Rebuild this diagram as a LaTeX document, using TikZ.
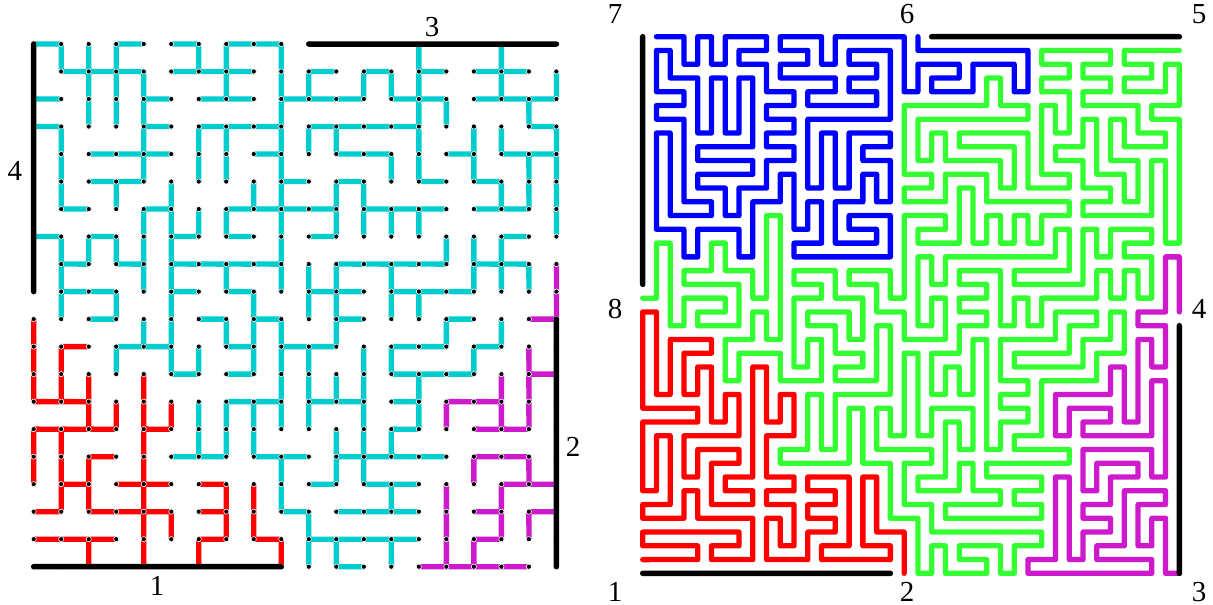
\documentclass[tikz,border=0pt]{standalone}
\usepackage{fontspec}
\setmainfont{Liberation Serif}
\definecolor{tcyan}{RGB}{0,205,205}
\definecolor{tred}{RGB}{255,0,0}
\definecolor{tmag}{RGB}{205,26,205}
\definecolor{cblue}{RGB}{0,0,255}
\definecolor{cgreen}{RGB}{51,255,51}
\tikzset{
 edge/.style={line width=5.3pt,line cap=butt},
 dot/.style={fill=black,draw=white,line width=.6pt},
 bar/.style={line width=5.5pt,line cap=round,black},
 curve/.style={line width=5.3pt,line cap=round,line join=round},
 lab/.style={inner sep=0pt,font=\fontsize{29}{29}\selectfont}
}
\newcount\ca \newcount\cb \newcount\cres \newcount\eres \newcount\cvt
\newcount\cvk \newcount\cvm \newcount\cvd \newcount\found \newcount\cvs
\makeatletter
\newcommand\hedges[3]{\foreach \ci in {#3}{\draw[edge,#1] (\ci,#2) -- ++(1,0.001);
  \expandafter\gdef\csname h\ci,#2\endcsname{}}}
\newcommand\vedges[3]{\foreach \ci in {#3}{\draw[edge,#1] (\ci,#2) -- ++(0.001,1);
  \expandafter\gdef\csname v\ci,#2\endcsname{}}}
\def\cellval#1#2{\ca=\numexpr#1\relax \cb=\numexpr#2\relax
 \ifnum\ca<0 \cres=0 \ifnum\cb>-1 \ifnum\cb<19 \cres=1 \fi\fi \ifnum\cb=38 \cres=1 \fi
 \else\ifnum\cb<0 \cres=0 \ifnum\ca=0 \cres=1 \fi \ifnum\ca>19 \ifnum\ca<39 \cres=1 \fi\fi
 \else\ifnum\ca>38 \cres=0 \ifnum\cb>19 \ifnum\cb<39 \cres=1 \fi\fi \ifnum\cb=0 \cres=1 \fi
 \else\ifnum\cb>38 \cres=0 \ifnum\ca<19 \cres=1 \fi
 \else
  \ifodd\ca
   \ifodd\cb \cres=0
   \else
    \ifcsname h\the\numexpr(\ca-1)/2\relax,\the\numexpr\cb/2\relax\endcsname \cres=1 \else \cres=0 \fi
   \fi
  \else
   \ifodd\cb
    \ifcsname v\the\numexpr\ca/2\relax,\the\numexpr(\cb-1)/2\relax\endcsname \cres=1 \else \cres=0 \fi
   \else \cres=1
   \fi
  \fi
 \fi\fi\fi\fi}
\def\testH#1#2{\eres=0
 \ifnum\numexpr#1\relax>-1 \ifnum\numexpr#1\relax<39
  \cellval{#1}{#2-1}\cvt=\cres \cellval{#1}{#2}%
  \ifnum\cvt=\cres\else\eres=1 \fi
 \fi\fi}
\def\testV#1#2{\eres=0
 \ifnum\numexpr#2\relax>-1 \ifnum\numexpr#2\relax<39
  \cellval{#1-1}{#2}\cvt=\cres \cellval{#1}{#2}%
  \ifnum\cvt=\cres\else\eres=1 \fi
 \fi\fi}
\def\stepcurve{\found=0
 \ifnum\cvd=2 \else\testH{\cvk}{\cvm}\ifnum\eres=1 \found=1 \cvd=0 \advance\cvk 1 \fi\fi
 \ifnum\found=0 \ifnum\cvd=3 \else\testV{\cvk}{\cvm}\ifnum\eres=1 \found=1 \cvd=1 \advance\cvm 1 \fi\fi\fi
 \ifnum\found=0 \ifnum\cvd=0 \else\testH{\cvk-1}{\cvm}\ifnum\eres=1 \found=1 \cvd=2 \advance\cvk -1 \fi\fi\fi
 \ifnum\found=0 \ifnum\cvd=1 \else\testV{\cvk}{\cvm-1}\ifnum\eres=1 \found=1 \cvd=3 \advance\cvm -1 \fi\fi\fi
 \ifnum\found=1 \xdef\curvepath{\curvepath -- (\the\cvk,\the\cvm)}\fi
 \advance\cvs 1 \ifnum\cvs>3000 \found=0 \fi}
\def\drawpath#1#2{\draw[curve,#2] #1;}
\def\tracecurve#1#2#3{\cvk=#1 \cvm=#2 \cvd=-1 \cvs=0
 \xdef\curvepath{(\the\cvk.002,\the\cvm.002)}%
 \loop\stepcurve\ifnum\found=1 \repeat
 \expandafter\drawpath\expandafter{\curvepath}{#3}}
\makeatother
\begin{document}
\begin{tikzpicture}
\useasboundingbox (0,0) rectangle (1213pt,-605pt);
% ---------- left panel: the forest on the 20 x 20 grid
\begin{scope}[x=27.51pt,y=-27.51pt,shift={(33.7pt,-44pt)}]
\hedges{tcyan}{0}{0,3,5,7,8}
\hedges{tcyan}{1}{1,2,3,5,6,7,10,12,14,16,17}
\hedges{tcyan}{2}{0,4,6,7,9,10,11,13,14,16,17,18}
\hedges{tcyan}{3}{0,4,6,7,8,10,11,12,13,18}
\hedges{tcyan}{4}{2,3,4,8,11,12,15,17,18}
\hedges{tcyan}{5}{2,3,9,11,14,16}
\hedges{tcyan}{6}{1,4,7,8,9,10,12,13,14,16,17}
\hedges{tcyan}{7}{0,2,5,7,10,17}
\hedges{tcyan}{8}{1,3,5,6,7,8,11,12,13,14,16,17}
\hedges{tcyan}{9}{1,2,5,7,10,11,13,14,15}
\hedges{tcyan}{10}{2,6,8,11,15}
\hedges{tcyan}{11}{3,4,7,9,10,13,14,16}
\hedges{tcyan}{12}{5,7,13,14,15}
\hedges{tcyan}{13}{7,8,10,11,13}
\hedges{tcyan}{14}{13}
\hedges{tcyan}{15}{5,6,8,9,11,12,13,14}
\hedges{tcyan}{16}{10,12,13}
\hedges{tcyan}{17}{9,11,12,13}
\hedges{tcyan}{18}{10,11,12,13}
\hedges{tcyan}{19}{11}
\vedges{tcyan}{0}{1,2,3,6,7,9,14,17}
\vedges{tcyan}{1}{2,3,4,7,9,10,12,13,14,17,19}
\vedges{tcyan}{2}{2,3,4,9,14,15,18}
\vedges{tcyan}{3}{1,4,6,7,9,10,11,14,16,17,19}
\vedges{tcyan}{4}{1,4,6,7,9,13,14,16,18,19}
\vedges{tcyan}{5}{1,3,5,8,9,11,12,17,18,19}
\vedges{tcyan}{6}{4,5,6,7,9,11,12,13,14,19}
\vedges{tcyan}{7}{1,2,3,4,5,9,15,16,17}
\vedges{tcyan}{8}{1,4,5,7,9,10,11,13,16,17,18}
\vedges{tcyan}{9}{1,3,5,8,10,11,13,14}
\vedges{tcyan}{10}{4,5,7,8,9,11,15,17}
\vedges{tcyan}{11}{3,5,6,8,9,10,12,13,16}
\vedges{tcyan}{12}{9,10,11,12,14}
\vedges{tcyan}{13}{6,7,8,9,10,12,14}
\vedges{tcyan}{14}{6,7,8,11,12,13}
\vedges{tcyan}{15}{9,11,12}
\vedges{tcyan}{16}{9,13}
\vedges{tcyan}{17}{10}
\vedges{tcyan}{18}{10,11,13}
% red
\hedges{tred}{11}{1}
\hedges{tred}{13}{0,1}
\hedges{tred}{14}{0,1,2,4}
\hedges{tred}{15}{2}
\hedges{tred}{16}{1,3,4,6}
\hedges{tred}{17}{0,2,3,4,6}
\hedges{tred}{18}{0,1,2,6,8}
\vedges{tred}{10}{0}
\vedges{tred}{11}{0,1}
\vedges{tred}{12}{0,1,2,4}
\vedges{tred}{13}{2,3,4,5}
\vedges{tred}{14}{0,1,4}
\vedges{tred}{15}{0,1,2,4}
\vedges{tred}{16}{1,2,4,7,8}
\vedges{tred}{17}{4,5,7,8}
\vedges{tred}{18}{2,4,6,9}
% magenta
\hedges{tmag}{10}{18}
\hedges{tmag}{12}{18}
\hedges{tmag}{13}{15,16}
\hedges{tmag}{14}{16,17}
\hedges{tmag}{15}{16,17}
\hedges{tmag}{16}{17,18}
\hedges{tmag}{17}{16,18}
\hedges{tmag}{18}{16}
\hedges{tmag}{19}{14,15,16,17}
\vedges{tmag}{8}{19}
\vedges{tmag}{9}{19}
\vedges{tmag}{11}{18}
\vedges{tmag}{12}{17,18}
\vedges{tmag}{13}{15,17,18}
\vedges{tmag}{15}{16,18}
\vedges{tmag}{16}{15,17}
\vedges{tmag}{17}{15,17,18}
\vedges{tmag}{18}{15,16}
% the four wired sides count as edges for the curves
\foreach \cj in {0,...,8}{\expandafter\gdef\csname v0,\cj\endcsname{}\expandafter\gdef\csname h\cj,19\endcsname{}}
\foreach \cj in {10,...,18}{\expandafter\gdef\csname h\cj,0\endcsname{}\expandafter\gdef\csname v19,\cj\endcsname{}}
\foreach \ci in {0,...,19}{\foreach \cj in {0,...,19}{\filldraw[dot] (\ci,\cj) circle (2.6pt);}}
\coordinate (la) at (0,0); \coordinate (lb) at (0.001,9);
\coordinate (lc) at (0,19); \coordinate (ld) at (9,19.001);
\coordinate (le) at (10,0); \coordinate (lf) at (19,0.001);
\coordinate (lg) at (19,10); \coordinate (lh) at (19.001,19);
\draw[bar] (la) -- (lb);
\draw[bar] (lc) -- (ld);
\draw[bar] (le) -- (lf);
\draw[bar] (lg) -- (lh);
\end{scope}
% ---------- right panel: the curves
\begin{scope}[x=13.76pt,y=-13.76pt,shift={(642.7pt,-36.7pt)}]
\tracecurve{1}{0}{cblue}
\tracecurve{0}{19}{cgreen}
\tracecurve{0}{38}{tred}
\tracecurve{39}{20}{tmag}
\coordinate (ra) at (0,0); \coordinate (rb) at (0.002,18);
\coordinate (rc) at (0,39); \coordinate (rd) at (18,39.002);
\coordinate (re) at (21,0); \coordinate (rf) at (39,0.002);
\coordinate (rg) at (39,21); \coordinate (rh) at (39.002,39);
\draw[bar] (ra) -- (rb);
\draw[bar] (rc) -- (rd);
\draw[bar] (re) -- (rf);
\draw[bar] (rg) -- (rh);
\end{scope}
% ---------- labels
\node[lab] (t1) at (157pt,-586pt) {1};
\node[lab] (t2) at (573pt,-447pt) {2};
\node[lab] (t3) at (432pt,-27pt) {3};
\node[lab] (t4) at (15pt,-171pt) {4};
\node[lab] (p7) at (615pt,-14pt) {7};
\node[lab] (p6) at (907pt,-14pt) {6};
\node[lab] (p5) at (1199pt,-14pt) {5};
\node[lab] (p8) at (615pt,-309pt) {8};
\node[lab] (p4) at (1199pt,-309pt) {4};
\node[lab] (p1) at (615pt,-592pt) {1};
\node[lab] (p2) at (907pt,-592pt) {2};
\node[lab] (p3) at (1199pt,-592pt) {3};
\end{tikzpicture}
\end{document}
